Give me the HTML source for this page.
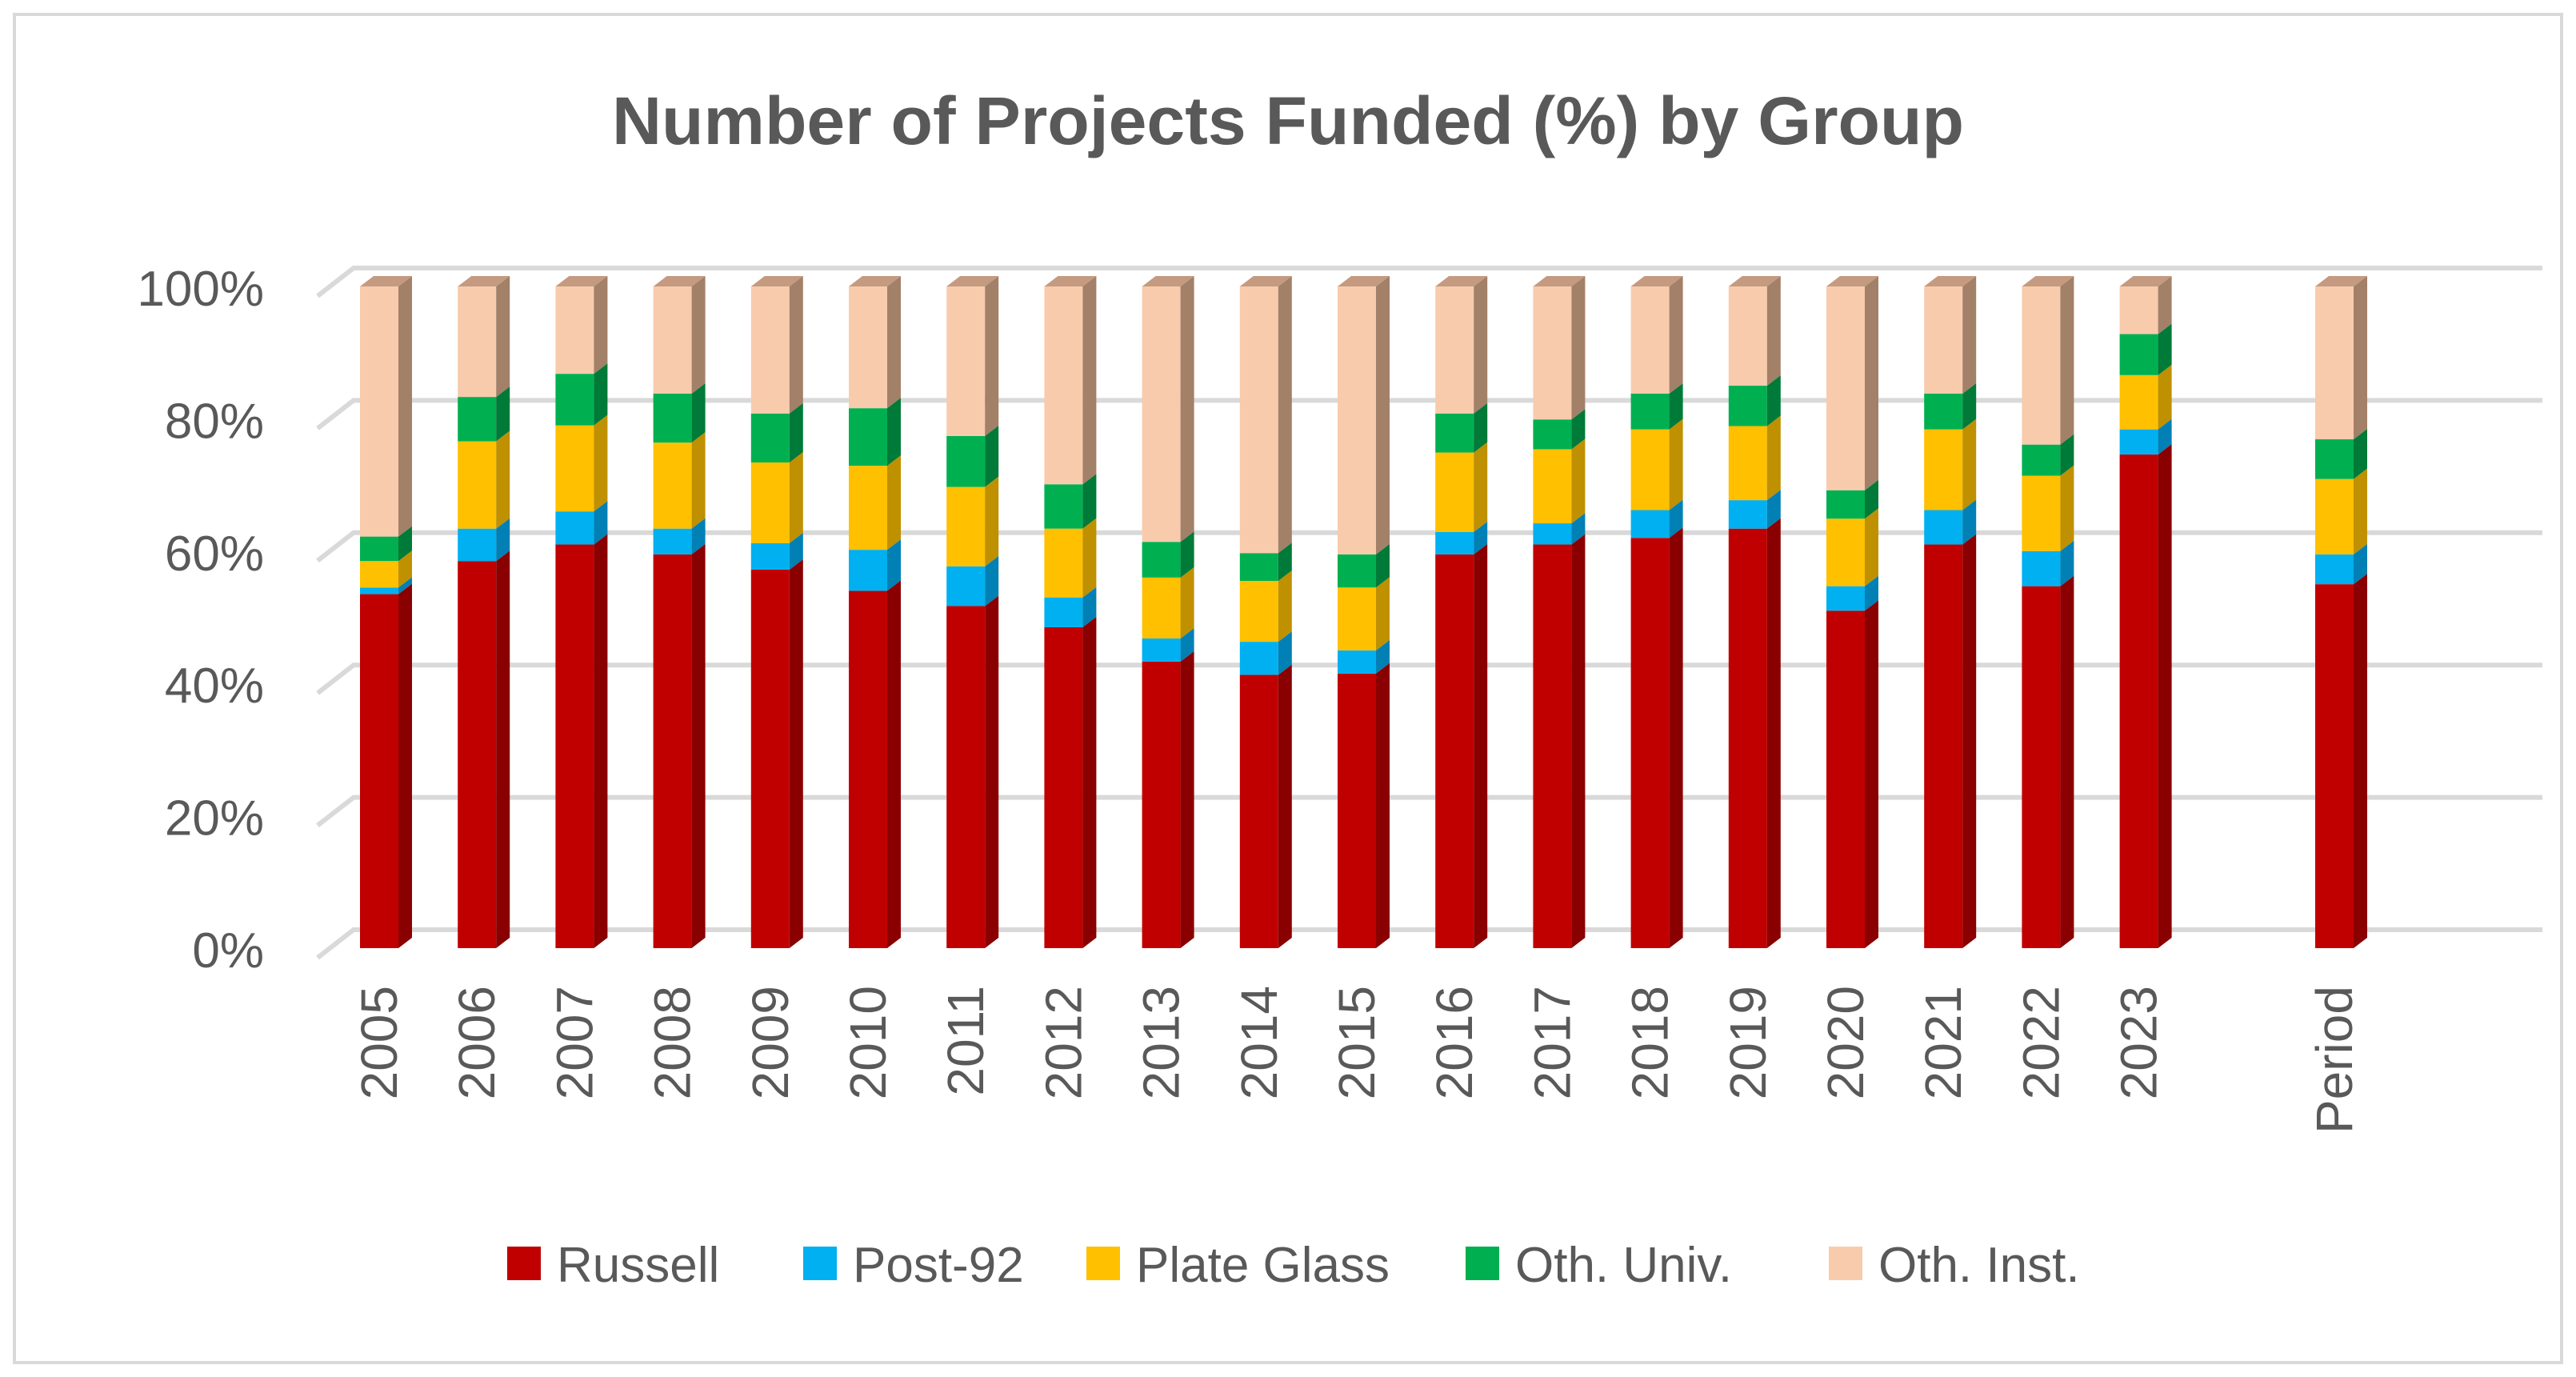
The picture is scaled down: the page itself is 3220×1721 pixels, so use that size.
<!DOCTYPE html>
<html><head><meta charset="utf-8"><style>
html,body{margin:0;padding:0;background:#fff;}
svg{display:block;font-family:"Liberation Sans",sans-serif;}
</style></head><body>
<svg id="chart" width="3220" height="1721" viewBox="0 0 3220 1721">
<rect x="18" y="18" width="3184" height="1685" fill="#fff" stroke="#d9d9d9" stroke-width="4"/>
<text x="1610" y="180" text-anchor="middle" font-size="84" font-weight="bold" fill="#595959" textLength="1690" lengthAdjust="spacingAndGlyphs">Number of Projects Funded (%) by Group</text>
<g id="grid"></g><g id="bars"></g><g id="xlabels"></g><g id="legend"></g>
</svg>
<script>
const categories=["2005","2006","2007","2008","2009","2010","2011","2012","2013","2014","2015","2016","2017","2018","2019","2020","2021","2022","2023","","Period"];
const russell=[53.5,58.5,61,59.5,57.2,54,51.7,48.5,43.3,41.3,41.5,59.5,61,62,63.4,51,61,54.7,74.6,null,55];
const post92=[1,4.9,5,3.9,4,6.2,6,4.5,3.5,5,3.5,3.4,3.2,4.2,4.3,3.7,5.2,5.3,3.8,null,4.5];
const plateGlass=[4,13.2,13,13,12.2,12.7,12,10.4,9.2,9.2,9.5,12,11.2,12.2,11.2,10.2,12.2,11.4,8.2,null,11.4];
const othUniv=[3.7,6.7,7.8,7.4,7.4,8.7,7.7,6.7,5.4,4.2,5,5.9,4.5,5.4,6.1,4.3,5.4,4.7,6.2,null,6];
const yTicks=[0,20,40,60,80,100];
const seriesNames=["Russell","Post-92","Plate Glass","Oth. Univ.","Oth. Inst."];
const NS="http://www.w3.org/2000/svg";
const front=["#C00000","#00B0F0","#FFC000","#00B050","#F8CBAD"];
const side=["#8A0000","#0080B4","#BF9000","#007A38","#A38068"];
const topc=["#A00000","#0096CC","#E0A800","#00963F","#C49A80"];
const y0=1185,y100=358,x0=474,step=122.2,bw=48,dx=17,dy=13;
function Y(v){return y0-(y0-y100)*v/100;}
function X(i){return x0+step*i;}
function mk(tag,attrs,parent){const e=document.createElementNS(NS,tag);for(const k in attrs)e.setAttribute(k,attrs[k]);parent.appendChild(e);return e;}
const grid=document.getElementById('grid');
yTicks.forEach(t=>{
  const y=Y(t);
  const g=mk('g',{},grid);
  
  
  mk('polyline',{points:`397,${y+12} 442,${y-23} 3178,${y-23}`,fill:'none',stroke:'#d9d9d9','stroke-width':6},g);
  const tx=mk('text',{x:330,y:y+24,'text-anchor':'end','font-size':62,fill:'#595959'},grid);
  tx.textContent=t+'%';
  
  
});
const bars=document.getElementById('bars');
const xl=document.getElementById('xlabels');
categories.forEach((c,i)=>{
  if(c!==""){
    const t=mk('text',{transform:`translate(${X(i)+22},1232) rotate(-90)`,'text-anchor':'end','font-size':64,fill:'#595959'},xl);
    t.textContent=c;
    
    
  }
  if(russell[i]==null)return;
  const vals=[russell[i],post92[i],plateGlass[i],othUniv[i]];
  let s=vals.reduce((a,b)=>a+b,0);vals.push(Math.max(0,100-s));
  const g=mk('g',{},bars);
  
  
  let cum=0;const x=X(i)-bw/2;
  vals.forEach((v,k)=>{
    const yb=Y(cum),yt=Y(cum+v);cum+=v;
    mk('rect',{x:x,y:yt,width:bw,height:yb-yt,fill:front[k]},g);
    mk('polygon',{points:`${x+bw},${yb} ${x+bw+dx},${yb-dy} ${x+bw+dx},${yt-dy} ${x+bw},${yt}`,fill:side[k]},g);
    if(k===4)mk('polygon',{points:`${x},${yt} ${x+dx},${yt-dy} ${x+bw+dx},${yt-dy} ${x+bw},${yt}`,fill:topc[k]},g);
  });
});
const lg=document.getElementById('legend');
const lx=[634,1004,1358,1832,2286];
seriesNames.forEach((n,k)=>{
  const g=mk('g',{},lg);
  
  
  mk('rect',{x:lx[k],y:1558,width:42,height:42,fill:front[k]},g);
  const t=mk('text',{x:lx[k]+62,y:1602,'font-size':62,fill:'#595959'},g);
  t.textContent=n;
});
</script>
</body></html>
